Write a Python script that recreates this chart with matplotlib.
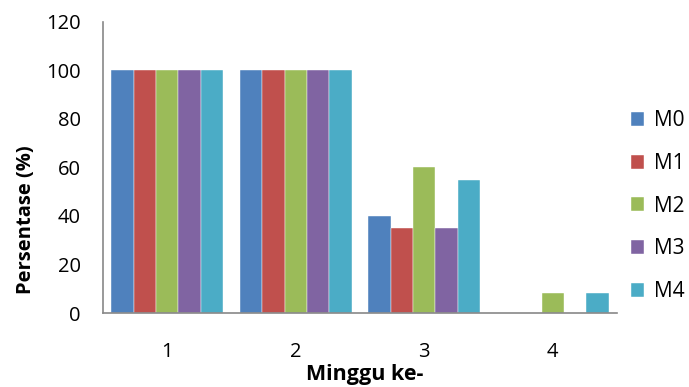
import numpy as np
import matplotlib.pyplot as plt

weeks = ['1', '2', '3', '4']
series = ['M0', 'M1', 'M2', 'M3', 'M4']
M0 = [100, 100, 40, 0]
M1 = [100, 100, 35, 0]
M2 = [100, 100, 60, 8.33]
M3 = [100, 100, 35, 0]
M4 = [100, 100, 55, 8.33]
colors = ['#4F81BD', '#C0504D', '#9BBB59', '#8064A2', '#4BACC6']

plt.rcParams['font.family'] = ['Open Sans', 'DejaVu Sans']

fig = plt.figure(figsize=(6.89, 3.87), dpi=100)
ax = fig.add_axes([0.1495, 0.191, 0.746, 0.753])

x = np.arange(len(weeks))
w = 0.175
for i, (name, vals) in enumerate(zip(series, [M0, M1, M2, M3, M4])):
    ax.bar(x + (i - 2) * w, vals, w, color=colors[i], label=name,
           edgecolor='white', linewidth=0.3)

ax.set_xlim(-0.5, 3.5)
ax.set_ylim(0, 120)
ax.set_yticks(range(0, 121, 20))
ax.set_xticks(x)
ax.set_xticklabels(weeks)
ax.tick_params(length=0, labelsize=14.5, colors='black')
ax.tick_params(axis='y', pad=16)
ax.tick_params(axis='x', pad=21)
for s in ['top', 'right']:
    ax.spines[s].set_visible(False)
for s in ['left', 'bottom']:
    ax.spines[s].set_color('#888888')
    ax.spines[s].set_linewidth(1.2)

ax.set_ylabel('Persentase (%)', fontsize=14.5, fontweight='bold', va='center')
ax.yaxis.set_label_coords(-0.15, 0.32)
ax.set_xlabel('Minggu ke-', fontsize=15.5, fontweight='bold', va='center')
ax.xaxis.set_label_coords(0.51, -0.21)

ax.legend(loc='center left', bbox_to_anchor=(0.99, 0.367), frameon=False,
          fontsize=15, handlelength=0.65, handleheight=0.65, labelspacing=1.04,
          handletextpad=0.45)

fig.savefig('out.png', dpi=100)
